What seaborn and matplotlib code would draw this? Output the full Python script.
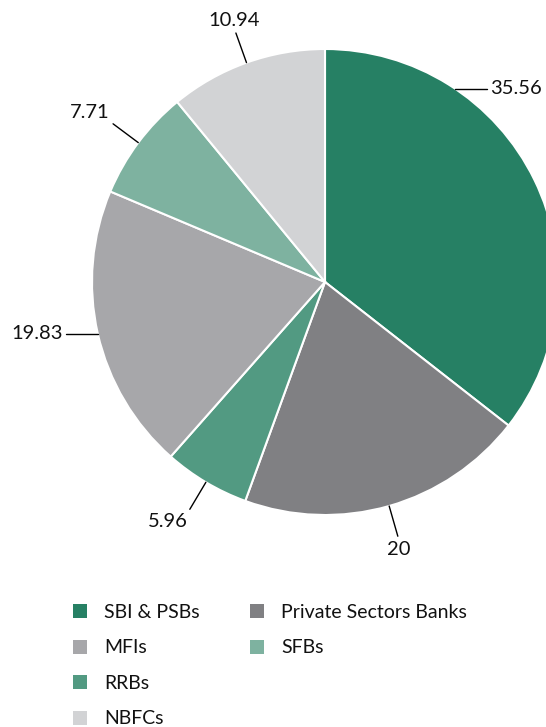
import numpy as np
import seaborn as sns
import matplotlib.pyplot as plt
from matplotlib.patches import Patch

# data (percent share), clockwise from 12 o'clock
categories = ['SBI & PSBs', 'Private Sectors Banks', 'RRBs', 'MFIs', 'SFBs', 'NBFCs']
shares = [35.56, 20, 5.96, 19.83, 7.71, 10.94]
value_labels = ['35.56', '20', '5.96', '19.83', '7.71', '10.94']
colors = ['#268064', '#808083', '#529a82', '#a7a7aa', '#7eb2a0', '#d2d3d5']

sns.set_theme(style='white')
plt.rcParams['font.family'] = ['Lato', 'DejaVu Sans']

fig = plt.figure(figsize=(5.46, 7.27), dpi=100)
ax = fig.add_axes([0, 0, 1, 1])

wedges, _ = ax.pie(shares, colors=colors, startangle=90, counterclock=False,
                   radius=1, wedgeprops=dict(edgecolor='white', linewidth=1.5))

# pie of radius 1 = 233 px, centre at (325, 282) px from top-left
R = 233.0
ax.set_xlim(-325 / R, (546 - 325) / R)
ax.set_ylim(-(727 - 282) / R, 282 / R)
ax.axis('off')

# leader lines: most are radial, two are horizontal
horizontal = {0: 1, 3: -1}
angle_override = {0: 56}
seg = 0.135
fs = 14.5
for i, w in enumerate(wedges):
    ang = angle_override.get(i, (w.theta1 + w.theta2) / 2)
    c, s = np.cos(np.radians(ang)), np.sin(np.radians(ang))
    x0, y0 = c, s
    if i in horizontal:
        d = horizontal[i]
        x1, y1 = x0 + d * seg, y0
        ax.plot([x0, x1], [y0, y1], color='black', lw=1)
        ax.text(x1 + d * 0.015, y1, value_labels[i], fontsize=fs,
                ha='left' if d > 0 else 'right', va='center', color='#111111')
    else:
        x1, y1 = (1 + seg) * c, (1 + seg) * s
        ax.plot([x0, x1], [y0, y1], color='black', lw=1)
        ha = 'left' if c > 0.4 else ('right' if c < -0.4 else 'center')
        va = 'bottom' if s > 0.4 else ('top' if s < -0.4 else 'center')
        ax.text(x1 + 0.02 * c, y1 + 0.02 * s, value_labels[i], fontsize=fs,
                ha=ha, va=va, color='#111111')

# legend: first column 4 entries, second column 2
order = [0, 3, 2, 5, 1, 4]
handles = [Patch(facecolor=colors[k], edgecolor='none', label=categories[k]) for k in order]
handles += [Patch(visible=False, label=''), Patch(visible=False, label='')]
fs_leg = 14
fig.legend(handles=handles, ncol=2, loc='upper left',
           bbox_to_anchor=(73 / 546, 1 - 604 / 727), frameon=False,
           fontsize=fs_leg, handlelength=0.72, handleheight=0.72,
           handletextpad=0.88, columnspacing=2.6, labelspacing=0.95,
           borderpad=0, borderaxespad=0, labelcolor='#111111')

fig.savefig('out.png', dpi=100)
